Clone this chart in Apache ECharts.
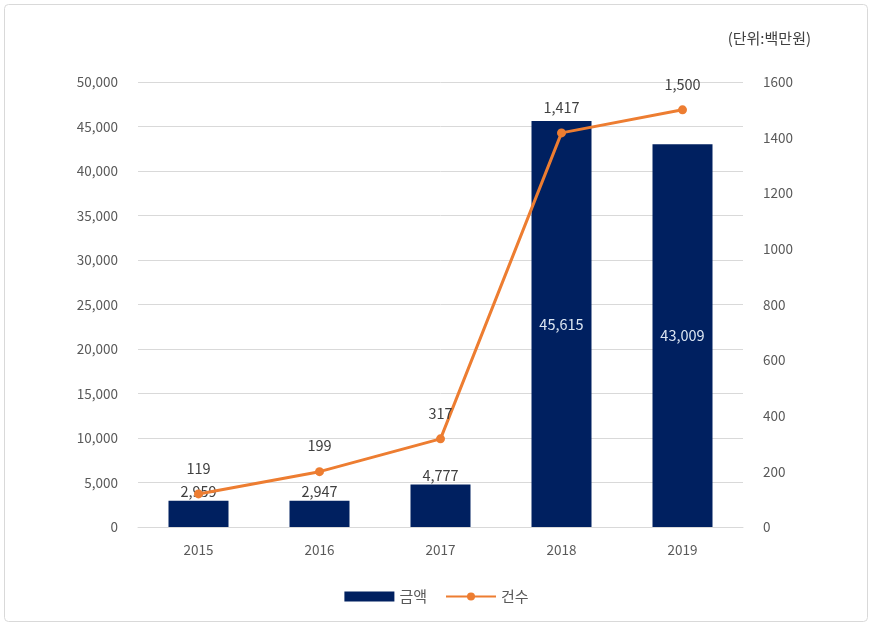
<!DOCTYPE html>
<html><head><meta charset="utf-8">
<script src="https://cdn.jsdelivr.net/npm/echarts@6/dist/echarts.min.js"></script>
<style>html,body{margin:0;padding:0;background:#fff}#c{width:873px;height:627px}</style>
</head><body><div id="c"></div>
<script>
const categories = ['2015','2016','2017','2018','2019'];
const amounts = [2959, 2947, 4777, 45615, 43009];
const counts = [119, 199, 317, 1417, 1500];
const insideLabelFrom = 3;
const font = '"Noto Sans CJK KR","Noto Sans",sans-serif';
const chart = echarts.init(document.getElementById('c'));
chart.setOption({
  animation: false,
  textStyle: {fontFamily: font},
  graphic: [
    {type: 'rect', shape: {x: 4.5, y: 4.5, width: 863, height: 617, r: 4}, style: {fill: 'none', stroke: '#d9d9d9', lineWidth: 1}, z: -1},
    {type: 'text', right: 62, top: 31, style: {text: '(단위:백만원)', fontSize: 15, fill: '#404040', fontFamily: font}}
  ],
  grid: {left: 138, right: 130, top: 82, bottom: 100},
  legend: {
    bottom: 18, left: 'center', itemGap: 18,
    textStyle: {fontSize: 15, color: '#595959', fontFamily: font},
    data: [{name: '금액', icon: 'rect', itemStyle: {color: '#002060'}}, {name: '건수'}],
    itemWidth: 50, itemHeight: 10
  },
  xAxis: {
    type: 'category', data: categories,
    axisLine: {lineStyle: {color: '#d9d9d9'}},
    axisTick: {show: false},
    axisLabel: {color: '#595959', fontSize: 13.5, margin: 16}
  },
  yAxis: [
    {type: 'value', min: 0, max: 50000, interval: 5000,
     axisLine: {show: false}, axisTick: {show: false},
     splitLine: {lineStyle: {color: '#d9d9d9'}},
     axisLabel: {color: '#595959', fontSize: 13.5, margin: 20, formatter: v => v.toLocaleString('en-US')}},
    {type: 'value', min: 0, max: 1600, interval: 200,
     axisLine: {show: false}, axisTick: {show: false},
     splitLine: {show: false},
     axisLabel: {color: '#595959', fontSize: 13.5, margin: 20, formatter: v => String(v)}}
  ],
  series: [
    {name: '금액', type: 'bar', barWidth: 60, yAxisIndex: 0,
     itemStyle: {color: '#002060'},
     data: amounts.map((v, i) => i >= insideLabelFrom
       ? {value: v, label: {position: 'inside', color: '#dce6f2'}}
       : {value: v}),
     label: {show: true, position: 'top', distance: 2, fontSize: 14.5, color: '#404040',
       formatter: p => p.value.toLocaleString('en-US')}},
    {name: '건수', type: 'line', yAxisIndex: 1,
     itemStyle: {color: '#ED7D31'},
     lineStyle: {color: '#ED7D31', width: 3},
     symbol: 'circle', symbolSize: 9,
     data: counts,
     label: {show: true, position: 'top', distance: 14, fontSize: 14.5, color: '#404040',
       formatter: p => p.value.toLocaleString('en-US')}}
  ]
});
</script></body></html>
